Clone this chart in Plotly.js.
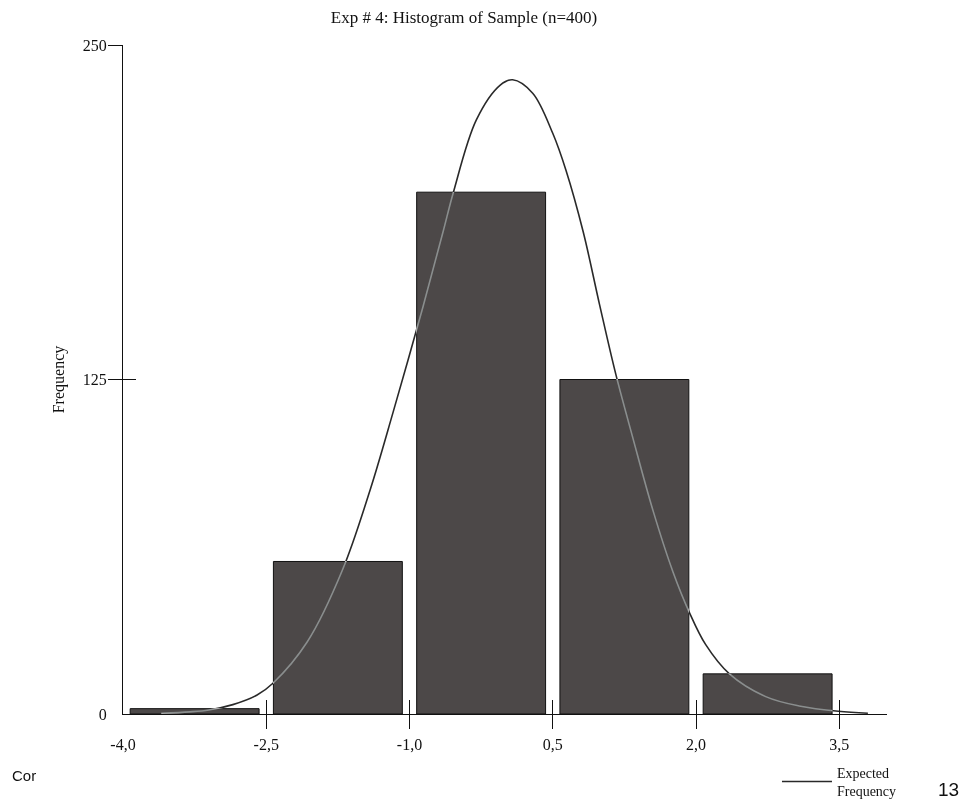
<!DOCTYPE html>
<html><head><meta charset="utf-8">
<script src="https://cdn.plot.ly/plotly-3.0.1.min.js"></script>
<style>
html,body{margin:0;padding:0;background:#fff;}
#chart{width:977px;height:806px;}
.js-line{mix-blend-mode:difference;}
.plot, .scrollbox, .overplot g{clip-path:none !important;}
</style></head><body><div id="chart"></div>
<script>
// Histogram bins (centre of each 1.5-wide bin) and counts
const binCenters = [-3.25, -1.75, -0.25, 1.25, 2.75];
const counts = [2, 57, 195, 125, 15];

// Expected frequency curve
const curveX = [-3.6, -3.3, -3.1, -2.85, -2.6, -2.43, -2.07, -1.70, -1.41, -1.17, -0.86, -0.65, -0.54, -0.30, -0.05, 0.08, 0.29, 0.50, 0.64, 0.82, 0.99, 1.16, 1.34, 1.55, 1.76, 1.93, 2.10, 2.35, 2.73, 3.08, 3.49, 3.8];
const curveY = [0.3, 0.8, 1.5, 3.5, 7, 11.5, 27, 54, 84, 113, 152, 180, 195, 222, 235, 237, 232, 217, 203, 180, 153, 127, 103, 76, 53, 38, 26, 15, 6.5, 3, 1, 0.3];

// Axis ticks
const xTickVals = [-4, -2.5, -1, 0.5, 2, 3.5];
const xTickText = ['-4,0', '-2,5', '-1,0', '0,5', '2,0', '3,5'];
const xMarkVals = [-2.5, -1, 0.5, 2, 3.5];
const yTickVals = [0, 125, 250];
const yTickText = ['0', '125', '250'];
const yMarkVals = [125, 250];

const serif = '"Liberation Serif", "Times New Roman", serif';

const traces = [
  {
    type: 'bar', x: binCenters, y: counts, xaxis: 'x', yaxis: 'y',
    marker: {color: '#4c4848', line: {color: '#111', width: 1}},
    showlegend: false, hoverinfo: 'skip'
  },
  {
    type: 'scatter', mode: 'lines', x: curveX, y: curveY, xaxis: 'x2', yaxis: 'y2',
    line: {color: '#d6d6d6', width: 1.6, shape: 'spline', smoothing: 1},
    name: 'Expected<br>Frequency', showlegend: true, hoverinfo: 'skip'
  }
];

const layout = {
  width: 977, height: 806,
  margin: {l: 123, r: 90, t: 45, b: 92, autoexpand: false},
  paper_bgcolor: '#fff', plot_bgcolor: '#fff',
  bargap: 0.1,
  font: {family: serif, color: '#111', size: 16},
  title: {text: 'Exp # 4: Histogram of Sample (n=400)', font: {family: serif, size: 17, color: '#111'},
          x: 0.475, xref: 'container', xanchor: 'center', y: 0.979, yref: 'container', yanchor: 'middle'},
  xaxis: {
    range: [-4, 4], showgrid: false, zeroline: false, fixedrange: true,
    showline: true, linecolor: '#111', linewidth: 1,
    tickmode: 'array', tickvals: xTickVals, ticktext: xTickText, ticks: '',
    ticklabelstandoff: 16, tickfont: {family: serif, size: 16, color: '#111'},
    minor: {tickmode: 'array', tickvals: xMarkVals, ticks: 'outside', ticklen: 14, tickcolor: '#111', tickwidth: 1, showgrid: false}
  },
  yaxis: {
    range: [0, 250], showgrid: false, zeroline: false, fixedrange: true,
    showline: true, linecolor: '#111', linewidth: 1,
    tickmode: 'array', tickvals: yTickVals, ticktext: yTickText, ticks: '',
    ticklabelstandoff: 12, tickfont: {family: serif, size: 16, color: '#111'},
    minor: {tickmode: 'array', tickvals: yMarkVals, ticks: 'outside', ticklen: 14, tickcolor: '#111', tickwidth: 1, showgrid: false},
    title: {text: 'Frequency', font: {family: serif, size: 16, color: '#111'}, standoff: 14}
  },
  xaxis2: {
    range: [-4, 4], overlaying: 'x', anchor: 'y2', showgrid: false, zeroline: false, fixedrange: true,
    showline: false, showticklabels: false,
    tickmode: 'array', tickvals: xMarkVals, ticks: 'inside', ticklen: 14, tickcolor: '#111', tickwidth: 1
  },
  yaxis2: {
    range: [0, 250], overlaying: 'y', anchor: 'x2', showgrid: false, zeroline: false, showline: false,
    showticklabels: false, fixedrange: true,
    tickmode: 'array', tickvals: yMarkVals, ticks: 'inside', ticklen: 13, tickcolor: '#111', tickwidth: 1
  },
  showlegend: true,
  legend: {
    x: 0.856, y: -0.064, xanchor: 'left', yanchor: 'top', xref: 'paper', yref: 'paper',
    bgcolor: '#ffffff', borderwidth: 0, itemwidth: 50, tracegroupgap: 0,
    font: {family: serif, size: 14, color: '#111'}
  },
  annotations: [
    {text: 'Cor', xref: 'paper', yref: 'paper', x: -0.148, y: -0.0912, xanchor: 'left', yanchor: 'middle',
     showarrow: false, font: {family: '"Liberation Sans", Arial, sans-serif', size: 15, color: '#111'}},
    {text: '13', xref: 'paper', yref: 'paper', x: 1.064, y: -0.1136, xanchor: 'left', yanchor: 'middle',
     showarrow: false, font: {family: '"Liberation Sans", Arial, sans-serif', size: 19, color: '#111'}}
  ]
};

Plotly.newPlot('chart', traces, layout, {staticPlot: true, displayModeBar: false});
</script></body></html>
